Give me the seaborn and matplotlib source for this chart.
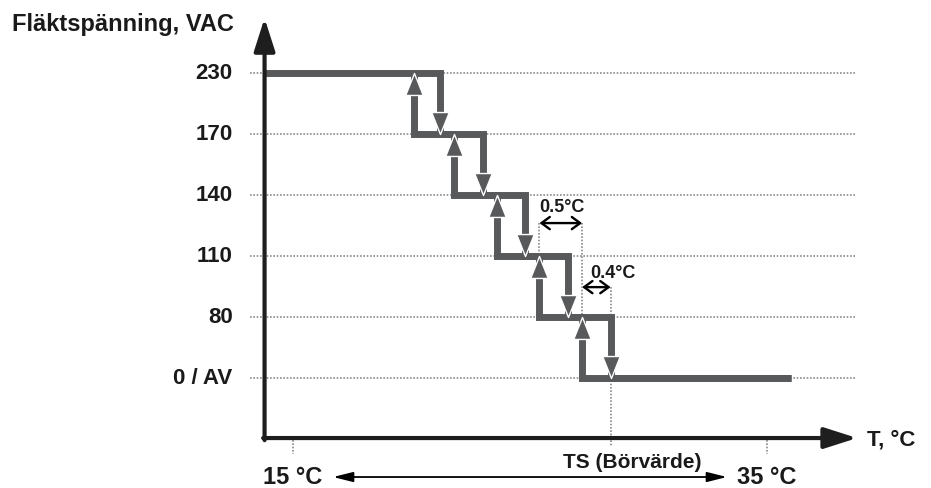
import numpy as np
import pandas as pd
import seaborn as sns
import matplotlib.pyplot as plt
from matplotlib.path import Path
from matplotlib.markers import MarkerStyle

# fan voltage levels (bottom to top) and the schematic switching temperatures
levels = ["0 / AV", "80", "110", "140", "170", "230"]
t_up = [20.1, 21.8, 23.6, 25.4, 27.2]      # switch points when cooling (voltage goes up)
t_down = [21.2, 23.0, 24.8, 26.6, 28.4]    # switch points when heating (voltage goes down)
t_axis = 13.8
t_end = 36.0
t_setpoint = 28.4
t_range = [15, 35]
t_range_labels = ["15 °C", "35 °C"]
step_label = "0.5°C"
hyst_label = "0.4°C"

sns.set_style("white")
plt.rcParams["font.family"] = ["Liberation Sans", "DejaVu Sans"]

LINE = "#58595b"
AXIS = "#1e1e1e"
TXT = "#1a1a1a"
GRID = "#8a8a8a"

fig = plt.figure(figsize=(9.31, 4.88), dpi=100)
ax = fig.add_axes([0, 0, 1, 1])
ax.set_xlim(2.637, 41.92)
ax.set_ylim(-1.803, 6.197)
ax.axis("off")

top = len(levels) - 1
y_axis0 = -0.984

# dotted level lines
for i, lab in enumerate(levels):
    ax.plot([13.19, 38.71], [i, i], color=GRID, lw=1.2, ls=(0, (1, 1)), zorder=1)
    ax.text(12.45, i, lab, ha="right", va="center", fontsize=16, fontweight="bold", color=TXT)

# hysteresis staircase: heating path and cooling path
rows = [(t_axis, top, "heat")]
for i, t in enumerate(t_down):
    rows += [(t, top - i, "heat"), (t, top - i - 1, "heat")]
rows.append((t_end, 0, "heat"))
rows.append((t_end, 0, "cool"))
for i in reversed(range(len(t_up))):
    rows += [(t_up[i], top - i - 1, "cool"), (t_up[i], top - i, "cool")]
path_df = pd.DataFrame(rows, columns=["T", "level", "path"])
sns.lineplot(data=path_df, x="T", y="level", units="path", estimator=None, sort=False,
             color=LINE, linewidth=5, legend=False, ax=ax, zorder=2,
             solid_joinstyle="miter", solid_capstyle="butt")

# direction arrows on the vertical steps (tip sits on the level line)
up_tri = MarkerStyle(Path([(0, 0), (-0.4, -1), (0.4, -1), (0, 0)], closed=True))
down_tri = MarkerStyle(Path([(0, 0), (-0.4, 1), (0.4, 1), (0, 0)], closed=True))
sns.scatterplot(x=t_up, y=[top - i for i in range(len(t_up))], marker=up_tri, s=1000,
                color=LINE, edgecolor="white", linewidth=1.0, ax=ax, zorder=4)
sns.scatterplot(x=t_down, y=[top - i - 1 for i in range(len(t_down))], marker=down_tri, s=1000,
                color=LINE, edgecolor="white", linewidth=1.0, ax=ax, zorder=4)

# helper dotted verticals and dimension arrows
ax.plot([t_up[3], t_up[3]], [2.54, 2.0], color=GRID, lw=1.2, ls=(0, (1, 1)), zorder=1)
ax.plot([t_up[4], t_up[4]], [2.54, 1.0], color=GRID, lw=1.2, ls=(0, (1, 1)), zorder=1)
ax.plot([t_setpoint, t_setpoint], [1.49, -1.13], color=GRID, lw=1.2, ls=(0, (1, 1)), zorder=1)
small = dict(arrowstyle="<->,head_length=0.3,head_width=0.22", mutation_scale=20,
             lw=1.7, color="black", shrinkA=0, shrinkB=0)
ax.annotate("", xy=(t_up[4], 2.54), xytext=(t_up[3], 2.54), arrowprops=small)
ax.annotate("", xy=(t_down[4], 1.49), xytext=(t_up[4], 1.49), arrowprops=small)
ax.text((t_up[3] + t_up[4]) / 2 + 0.05, 2.79, step_label, ha="center", va="center",
        fontsize=13, fontweight="bold", color=TXT)
ax.text(28.5, 1.72, hyst_label, ha="center", va="center",
        fontsize=13, fontweight="bold", color=TXT)

# axes with arrow heads
axis_arrow = dict(arrowstyle="-|>,head_length=1.0,head_width=0.32", mutation_scale=20,
                  lw=3, color=AXIS, shrinkA=0, shrinkB=0)
ax.annotate("", xy=(t_axis, 5.90), xytext=(t_axis, y_axis0 - 0.035), arrowprops=axis_arrow, zorder=5)
ax.annotate("", xy=(38.8, y_axis0), xytext=(t_axis - 0.06, y_axis0), arrowprops=axis_arrow, zorder=5)
ax.text(3.14, 5.79, "Fläktspänning, VAC", ha="left", va="center", fontsize=17,
        fontweight="bold", color=TXT)
ax.text(39.2, -1.016, "T, °C", ha="left", va="center", fontsize=16, fontweight="bold", color=TXT)

# temperature range
for t, lab in zip(t_range, t_range_labels):
    ax.plot([t, t], [-1.02, -1.24], color=GRID, lw=1.2, ls=(0, (1, 1)), zorder=1)
    ax.text(t, -1.623, lab, ha="center", va="center", fontsize=17, fontweight="bold", color=TXT)
ax.annotate("", xy=(33.31, -1.623), xytext=(16.69, -1.623),
            arrowprops=dict(arrowstyle="<|-|>,head_length=0.6,head_width=0.15", mutation_scale=20,
                            lw=1.3, color="black", shrinkA=0, shrinkB=0))
ax.text(29.3, -1.377, "TS (Börvärde)", ha="center", va="center", fontsize=15,
        fontweight="bold", color=TXT)

fig.savefig("out.png", dpi=100)
